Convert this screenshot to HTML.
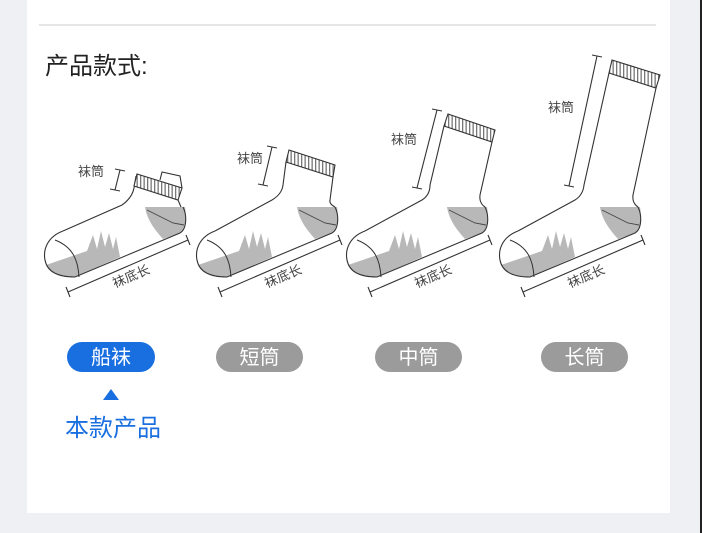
<!DOCTYPE html>
<html><head><meta charset="utf-8"><style>
html,body{margin:0;padding:0}
body{width:702px;height:533px;background:#eef0f3;position:relative;overflow:hidden;font-family:"Liberation Sans","Noto Sans CJK SC",sans-serif}
.card{position:absolute;left:27px;top:0;width:643px;height:513px;background:#fff}
.rs{position:absolute;left:700px;top:0;width:2px;height:533px;background:#222}
</style></head><body>
<div class="card"></div>
<div class="rs"></div>
<svg width="702" height="533" style="position:absolute;left:0;top:0" xmlns="http://www.w3.org/2000/svg">
<defs>
<pattern id="st" width="3.5" height="10" patternUnits="userSpaceOnUse"><rect width="3.5" height="10" fill="#fff"/><rect width="1.3" height="10" fill="#777"/></pattern>
<g id="foot">
<path d="M100,-48 L140,-48 C142,-36 140,-26 135,-22 L118,-16 C110,-25 102,-35 100,-48 Z" fill="#b8b8b8"/>
<path d="M1,10 L42,-4 L48,-20 L52,-6 L56,-24 L60,-8 L64,-22 L68,-6 L71,-18 L75,2 L30,22 C15,22 5,17 1,10 Z" fill="#b8b8b8"/>
<path d="M18,-24 C2,-18 -2,-5 0,5 C2,16 12,22 30,22 L135,-22 C142,-26 142,-40 138,-48" fill="none" stroke="#333" stroke-width="1.1"/>
<path d="M10,-15 C28,-8 33,5 34,22" fill="none" stroke="#333" stroke-width="1"/>
<path d="M102,-45 L128,-32 L139,-30" fill="none" stroke="#444" stroke-width="0.9"/>
<path d="M23,37 L143,-15 M21,32 L25,42 M141,-20 L145,-10" stroke="#333" stroke-width="1.1" fill="none"/>
<text x="0" y="0" font-size="13" fill="#444" transform="translate(70,33) rotate(-23)">袜底长</text>
</g>
</defs>
<line x1="39" y1="25" x2="656" y2="25" stroke="#ddd" stroke-width="1.5"/>
<text x="45" y="74" font-size="24" fill="#222">产品款式:</text>

<!-- sock 1 -->
<use href="#foot" transform="translate(45,255)"/>
<path d="M63,231 L122,205 Q132,198 134,188 L136,176" fill="none" stroke="#333" stroke-width="1.1"/>
<path d="M160,180 L162,172 L180,176 L182,188" fill="#fff" stroke="#333" stroke-width="1.1"/>
<polygon points="137,174 182,188 178,200 134,186" fill="url(#st)" stroke="#333" stroke-width="1.1"/>
<path d="M178,200 L181,207" fill="none" stroke="#333" stroke-width="1.1"/>
<path d="M120,170 L115,190 M115,169 L125,171 M110,189 L120,191" stroke="#333" stroke-width="1.1"/>
<text x="78" y="176" font-size="13" fill="#444">袜筒</text>

<!-- sock 2 -->
<use href="#foot" transform="translate(197,255)"/>
<path d="M215,231 L272,200 Q282,194 283,185 L286,162" fill="none" stroke="#333" stroke-width="1.1"/>
<polygon points="289,150 335,165 333,177 286,162" fill="url(#st)" stroke="#333" stroke-width="1.1"/>
<path d="M333,177 L330,200 Q329,204 335,207" fill="none" stroke="#333" stroke-width="1.1"/>
<path d="M272,147 L263,185 M267,146 L277,148 M258,184 L268,186" stroke="#333" stroke-width="1.1"/>
<text x="237" y="163" font-size="13" fill="#444">袜筒</text>

<!-- sock 3 -->
<use href="#foot" transform="translate(347,255)"/>
<path d="M365,231 L422,200 Q430,195 430,185 L444,126" fill="none" stroke="#333" stroke-width="1.1"/>
<polygon points="448,114 495,130 492,142 444,126" fill="url(#st)" stroke="#333" stroke-width="1.1"/>
<path d="M492,142 L480,195 Q479,203 485,207" fill="none" stroke="#333" stroke-width="1.1"/>
<path d="M437,110 L417,188 M432,109 L442,111 M412,187 L422,189" stroke="#333" stroke-width="1.1"/>
<text x="391" y="144" font-size="13" fill="#444">袜筒</text>

<!-- sock 4 -->
<use href="#foot" transform="translate(500,255)"/>
<path d="M518,231 L575,200 Q583,195 584,185 L609,73" fill="none" stroke="#333" stroke-width="1.1"/>
<polygon points="612,60 660,75 656,88 609,73" fill="url(#st)" stroke="#333" stroke-width="1.1"/>
<path d="M656,88 L633,195 Q632,203 638,207" fill="none" stroke="#333" stroke-width="1.1"/>
<path d="M597,56 L569,186 M592,55 L602,57 M564,185 L574,187" stroke="#333" stroke-width="1.1"/>
<text x="548" y="112" font-size="13" fill="#444">袜筒</text>

<!-- pills -->
<rect x="67" y="342" width="88" height="30" rx="15" fill="#1a6fe0"/>
<text x="111" y="364" font-size="20" fill="#fff" text-anchor="middle">船袜</text>
<rect x="216" y="342" width="87" height="30" rx="15" fill="#9b9b9b"/>
<text x="259.5" y="364" font-size="20" fill="#fff" text-anchor="middle">短筒</text>
<rect x="375" y="342" width="87" height="30" rx="15" fill="#9b9b9b"/>
<text x="418.5" y="364" font-size="20" fill="#fff" text-anchor="middle">中筒</text>
<rect x="541" y="342" width="87" height="30" rx="15" fill="#9b9b9b"/>
<text x="584.5" y="364" font-size="20" fill="#fff" text-anchor="middle">长筒</text>

<polygon points="111,389 103,400 119,400" fill="#1a6fe0"/>
<text x="113" y="436" font-size="24" fill="#1a6fe0" text-anchor="middle">本款产品</text>
</svg>
</body></html>
